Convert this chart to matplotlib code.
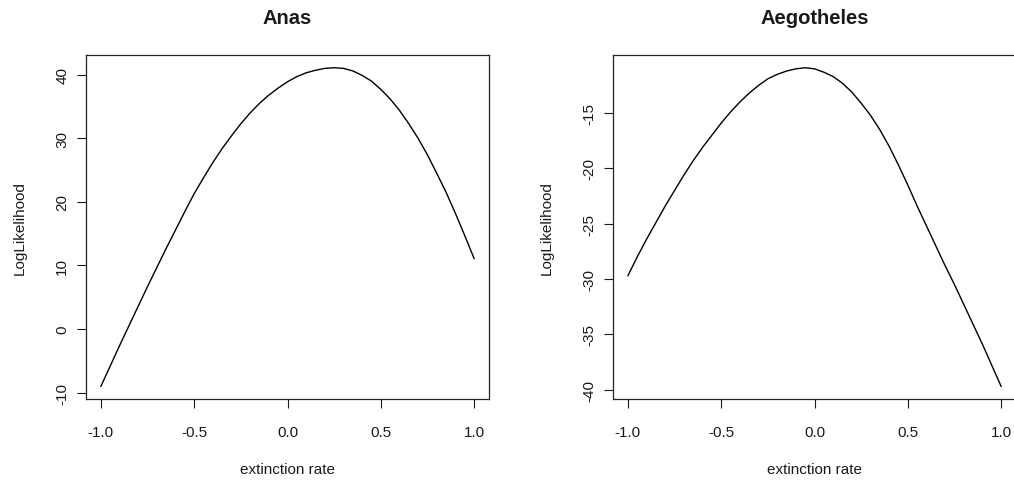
import matplotlib
matplotlib.use("Agg")
import matplotlib.pyplot as plt

plt.rcParams.update({
    "font.family": ["Liberation Sans", "DejaVu Sans"],
    "font.size": 11,
})

# extinction rate grid and log-likelihood values
rate = [-1.00, -0.95, -0.90, -0.85, -0.80, -0.75, -0.70, -0.65, -0.60, -0.55,
        -0.50, -0.45, -0.40, -0.35, -0.30, -0.25, -0.20, -0.15, -0.10, -0.05,
        0.00, 0.05, 0.10, 0.15, 0.20, 0.25, 0.30, 0.35, 0.40, 0.45,
        0.50, 0.55, 0.60, 0.65, 0.70, 0.75, 0.80, 0.85, 0.90, 0.95, 1.00]

anas_ll = [-9.0, -5.8, -2.6, 0.5, 3.6, 6.7, 9.7, 12.7, 15.6, 18.5,
           21.3, 23.8, 26.2, 28.4, 30.4, 32.3, 34.0, 35.5, 36.8, 37.9,
           38.9, 39.7, 40.3, 40.7, 41.0, 41.1, 41.0, 40.6, 39.9, 39.0,
           37.7, 36.2, 34.4, 32.3, 30.0, 27.4, 24.5, 21.5, 18.2, 14.7, 11.1]

aego_ll = [-29.7, -28.0, -26.4, -24.9, -23.4, -22.0, -20.6, -19.3, -18.1, -17.0,
           -15.9, -14.9, -14.0, -13.2, -12.5, -11.9, -11.5, -11.2, -11.0, -10.9,
           -11.0, -11.3, -11.7, -12.3, -13.1, -14.1, -15.2, -16.5, -18.0, -19.7,
           -21.5, -23.4, -25.2, -27.0, -28.8, -30.5, -32.3, -34.1, -35.9, -37.8, -39.7]

titles = ["Anas", "Aegotheles"]
xticks = [-1.0, -0.5, 0.0, 0.5, 1.0]
yticks = [[-10, 0, 10, 20, 30, 40], [-40, -35, -30, -25, -20, -15]]

W, H = 1014, 481
fig = plt.figure(figsize=(W / 100, H / 100), dpi=100)

# axes boxes in pixel coordinates (left, top, right, bottom)
boxes = [(86, 56, 489, 400), (613, 56, 1016, 400)]
TXT = "#1a1a1a"


def r_lim(vals):
    # R style 4% padding around the data range
    lo, hi = min(vals), max(vals)
    pad = 0.04 * (hi - lo)
    return lo - pad, hi + pad


for (l, t, r, b), title, ll, yt in zip(boxes, titles, [anas_ll, aego_ll], yticks):
    w, h = r - l, b - t
    ax = fig.add_axes([l / W, (H - b) / H, w / W, h / H])
    ax.plot(rate, ll, color="black", lw=1.0)
    ax.set_xlim(r_lim(rate))
    ax.set_ylim(r_lim(ll))
    ax.set_xticks(xticks)
    ax.set_xticklabels([f"{v:.1f}" for v in xticks])
    ax.set_yticks(yt)
    ax.set_yticklabels([str(v) for v in yt], rotation=90, va="center")
    ax.tick_params(direction="out", length=6.5, width=0.8, colors=TXT,
                   labelsize=11)
    ax.tick_params(axis="x", pad=12)
    ax.tick_params(axis="y", pad=5.5)
    for sp in ax.spines.values():
        sp.set_linewidth(0.9)
        sp.set_color("#222222")
    ax.set_title(title, fontsize=14.5, fontweight="bold", color=TXT, pad=23)
    ax.set_xlabel("extinction rate", fontsize=11, color=TXT, va="center")
    ax.xaxis.set_label_coords(0.5, (b - 470) / h)
    ax.set_ylabel("LogLikelihood", fontsize=11, color=TXT, va="center")
    ax.yaxis.set_label_coords(-0.165, 0.5)

fig.savefig("out.png", dpi=100)
